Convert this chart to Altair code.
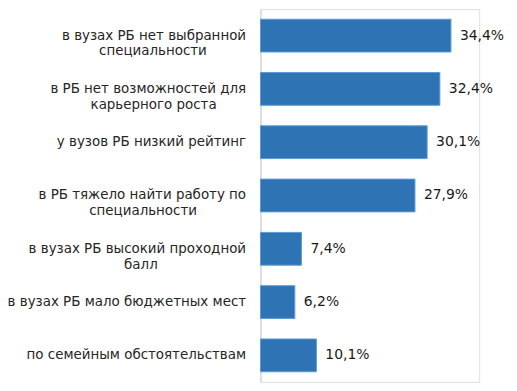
import altair as alt
import pandas as pd

categories = [
    "в вузах РБ нет выбранной|специальности",
    "в РБ нет возможностей для|карьерного роста",
    "у вузов РБ низкий рейтинг",
    "в РБ тяжело найти работу по|специальности",
    "в вузах РБ высокий проходной|балл",
    "в вузах РБ мало бюджетных мест",
    "по семейным обстоятельствам",
]
values = [34.4, 32.4, 30.1, 27.9, 7.4, 6.2, 10.1]
value_labels = ["34,4%", "32,4%", "30,1%", "27,9%", "7,4%", "6,2%", "10,1%"]

df = pd.DataFrame({"cat": categories, "val": values, "lab": value_labels})

FONT = "DejaVu Sans"

# centre the lines of a wrapped label inside its right-aligned block:
# the shorter line gets trailing blank (non-space) glyphs, each about 1.5 letters wide
FILL = "\u2800" * 40
p = "split(datum.label, '|')"
a = f"{p}[0]"
b = f"{p}[1]"
fa = f"slice('{FILL}', 0, round(max(0, length({b}) - length({a})) * 0.36))"
fb = f"slice('{FILL}', 0, round(max(0, length({a}) - length({b})) * 0.36))"
label_expr = f"indexof(datum.label, '|') >= 0 ? [{a} + {fa}, {b} + {fb}] : datum.label"

y = alt.Y(
    "cat:N",
    sort=categories,
    title=None,
    scale=alt.Scale(paddingInner=0.385, paddingOuter=0.19),
    axis=alt.Axis(
        labelExpr=label_expr,
        labelFont=FONT,
        labelFontSize=13.5,
        labelColor="#262626",
        labelLimit=400,
        labelPadding=15,
        labelLineHeight=16,
        ticks=False,
        domainColor="#D9D9D9",
        domainWidth=1.5,
    ),
)
x = alt.X("val:Q", scale=alt.Scale(domain=[0, 39.5]), axis=None)

bars = alt.Chart(df).mark_bar(
    color="#2E74B5", stroke="#5B9BD5", strokeWidth=1
).encode(x=x, y=y)

text = alt.Chart(df).mark_text(
    align="left", baseline="middle", dx=9, font=FONT, fontSize=14, color="#1a1a1a"
).encode(x=x, y=y, text="lab:N")

chart = (
    (bars + text)
    .properties(
        width=220,
        height=375,
        autosize=alt.AutoSizeParams(type="none"),
        padding={"left": 254, "top": 0, "right": 30, "bottom": 0},
    )
    .configure_view(stroke=None)
    .configure(background="white")
)

chart.save("out.html", embed_options={"renderer": "svg", "actions": False})
